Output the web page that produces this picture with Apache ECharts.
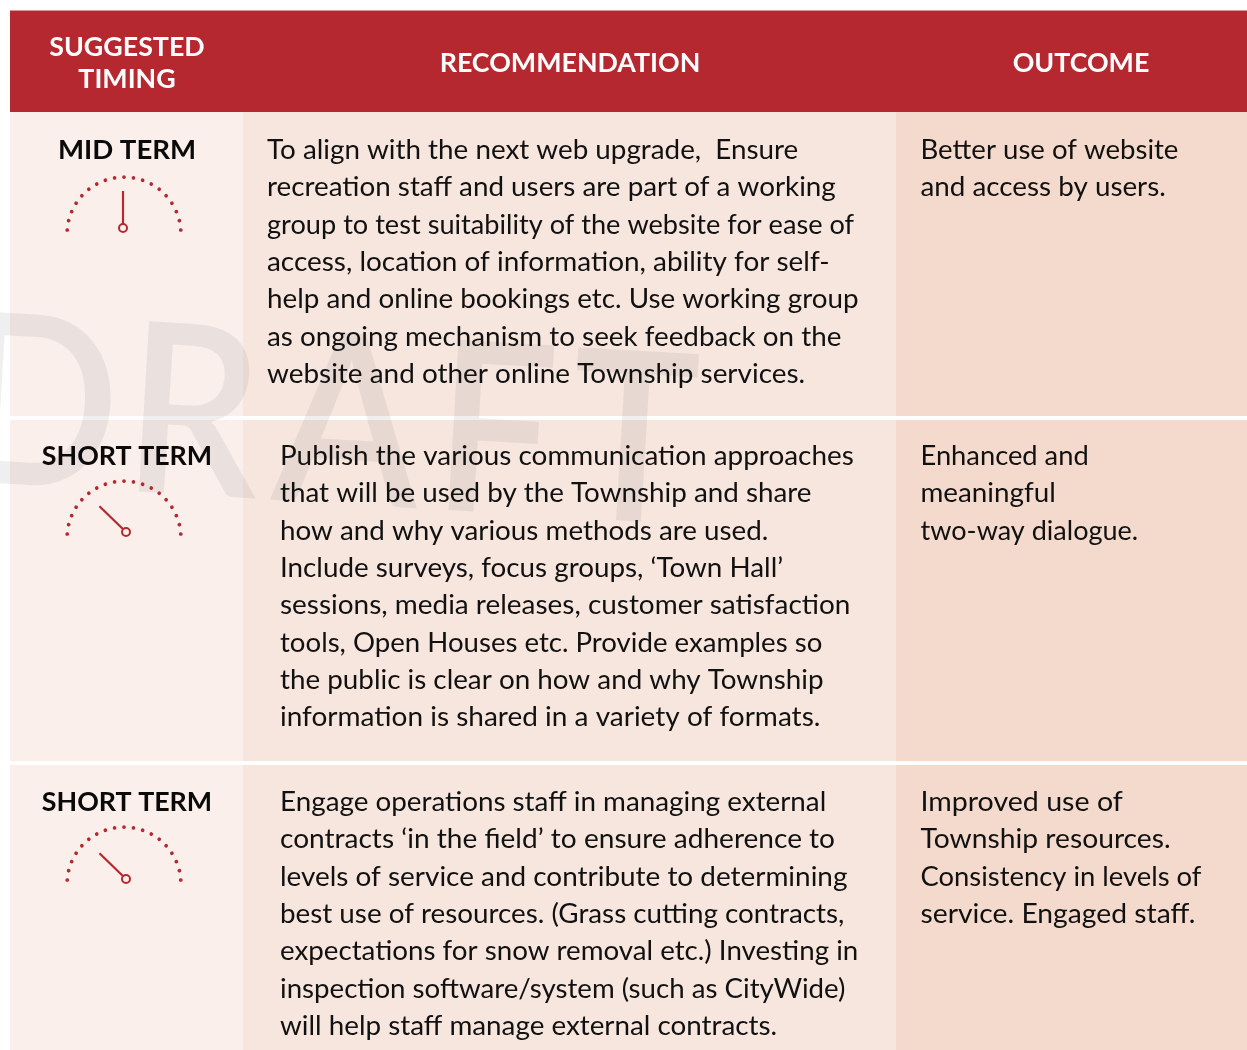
<!DOCTYPE html>
<html>
<head>
<meta charset="utf-8">
<title>Recommendations</title>
<script src="https://cdn.jsdelivr.net/npm/echarts@6/dist/echarts.min.js"></script>
<style>
  html, body { margin: 0; padding: 0; background: #fff; }
  #main { width: 1247px; height: 1050px; }
</style>
</head>
<body>
<div id="main"></div>
<script>
// table content
var headers = ['SUGGESTED\nTIMING', 'RECOMMENDATION', 'OUTCOME'];
var timingLabels = ['MID TERM', 'SHORT TERM', 'SHORT TERM'];
// needle reading on the 18 dot dial
var needleValues = [9, 4.2, 4.2];
var recommendations = [
  ['To align with the next web upgrade,  Ensure',
   'recreation staff and users are part of a working',
   'group to test suitability of the website for ease of',
   'access, location of information, ability for self-',
   'help and online bookings etc. Use working group',
   'as ongoing mechanism to seek feedback on the',
   'website and other online Township services.'],
  ['Publish the various communication approaches',
   'that will be used by the Township and share',
   'how and why various methods are used.',
   'Include surveys, focus groups, ‘Town Hall’',
   'sessions, media releases, customer satisfaction',
   'tools, Open Houses etc. Provide examples so',
   'the public is clear on how and why Township',
   'information is shared in a variety of formats.'],
  ['Engage operations staff in managing external',
   'contracts ‘in the field’ to ensure adherence to',
   'levels of service and contribute to determining',
   'best use of resources. (Grass cutting contracts,',
   'expectations for snow removal etc.) Investing in',
   'inspection software/system (such as CityWide)',
   'will help staff manage external contracts.']
];
var outcomes = [
  ['Better use of website', 'and access by users.'],
  ['Enhanced and', 'meaningful', 'two-way dialogue.'],
  ['Improved use of', 'Township resources.', 'Consistency in levels of', 'service. Engaged staff.']
];
var watermark = ['D', 'R', 'A', 'F', 'T'];

var red = '#b5282f';
var rowTop = [112, 420, 765];
var rowBottom = [416, 761, 1050];
var firstLine = [150, 456, 802];
var recX = [267, 280, 280];
var watermarkX = [38, 193, 348, 495, 633];
var dialCenter = [[124, 234], [124, 538], [124, 884]];
var needlePivot = [[123, 228], [126, 532], [126, 879]];
var lineH = 37.33;
// horizontal squeeze per line, the substitute font runs a little different from the original
var recFit = [
  [1, 1, 0.977, 1.004, 1, 1, 1.004],
  [1.003, 1, 1, 1, 1.005, 0.993, 1, 1.007],
  [1, 1.009, 1.004, 1, 0.997, 0.995, 1]
];
var outcomeFit = [
  [0.992, 1],
  [0.982, 1, 0.973],
  [1.028, 1.016, 0.986, 1.017]
];
var labelFit = [1.03, 1, 1];

function rect(x, y, w, h, fill) {
  return { type: 'rect', silent: true, shape: { x: x, y: y, width: w, height: h }, style: { fill: fill } };
}
function text(str, x, y, font, fill, align, lh, sx) {
  return {
    type: 'text', silent: true, z: 5,
    x: x, y: y, scaleX: sx || 1,
    style: { text: str, font: font, fill: fill, textAlign: align, textVerticalAlign: 'middle', lineHeight: lh }
  };
}
function block(lines, x, y, fit) {
  return lines.map(function (line, j) {
    return {
      type: 'text', silent: true, z: 5,
      x: x, y: y + j * lineH,
      scaleX: fit[j],
      style: { text: line, font: '27.8px Lato', fill: '#111', textAlign: 'left', textVerticalAlign: 'middle' }
    };
  });
}

var elements = [rect(10, 10.4, 1237, 101.6, red)];
rowTop.forEach(function (top, i) {
  var h = rowBottom[i] - top;
  elements.push(rect(10, top, 233, h, '#faefeb'));
  elements.push(rect(243, top, 653, h, '#f7e6de'));
  elements.push(rect(896, top, 351, h, '#f4dacd'));
});

// watermark sits over the cell fills, slightly tilted, letters squeezed a bit
watermark.forEach(function (letter, i) {
  elements.push({
    type: 'text', silent: true, z: 1,
    x: watermarkX[i], y: 409 + (watermarkX[i] - 38) * 0.06,
    rotation: -0.06, scaleX: 0.9,
    style: { text: letter, font: '600 237px Lato', fill: 'rgba(110,110,110,0.11)', textAlign: 'center', textVerticalAlign: 'middle' }
  });
});

elements.push(text(headers[0], 127, 63, 'bold 26.8px Lato', '#fff', 'center', 32));
elements.push(text(headers[1], 570, 63, 'bold 26.8px Lato', '#fff', 'center', 32));
elements.push(text(headers[2], 1081, 63, 'bold 26.8px Lato', '#fff', 'center', 32));

timingLabels.forEach(function (label, i) {
  elements.push(text(label, 127, firstLine[i], 'bold 26.8px Lato', '#0a0a0a', 'center', 32, labelFit[i]));
  elements = elements.concat(block(recommendations[i], recX[i], firstLine[i], recFit[i]));
  elements = elements.concat(block(outcomes[i], 920.5, firstLine[i], outcomeFit[i]));
});

var series = [];
needleValues.forEach(function (v, i) {
  // dotted arc
  series.push({
    type: 'gauge',
    center: dialCenter[i],
    radius: 57,
    startAngle: 176,
    endAngle: 4,
    min: 0,
    max: 18,
    splitNumber: 18,
    silent: true,
    animation: false,
    axisLine: { show: false, lineStyle: { width: 0 } },
    axisTick: { show: false },
    axisLabel: { show: false },
    splitLine: { show: true, distance: 0, length: 0.2, lineStyle: { color: red, width: 3.6, cap: 'round' } },
    pointer: { show: false },
    progress: { show: false },
    title: { show: false },
    detail: { show: false },
    data: [{ value: v }]
  });
  // needle turns round its own pivot, which is off the arc centre
  series.push({
    type: 'gauge',
    center: needlePivot[i],
    radius: 37,
    startAngle: 176,
    endAngle: 4,
    min: 0,
    max: 18,
    silent: true,
    animation: false,
    axisLine: { show: false, lineStyle: { width: 0 } },
    axisTick: { show: false },
    axisLabel: { show: false },
    splitLine: { show: false },
    pointer: { show: true, icon: 'rect', length: 37, width: 2.2, offsetCenter: [0, 0], keepAspect: false, itemStyle: { color: red } },
    anchor: { show: true, showAbove: true, icon: 'circle', size: 8, offsetCenter: [0, 0], itemStyle: { color: '#faefeb', borderColor: red, borderWidth: 2 } },
    progress: { show: false },
    title: { show: false },
    detail: { show: false },
    data: [{ value: v }]
  });
});

var myChart = echarts.init(document.getElementById('main'), null, { renderer: 'canvas' });
myChart.setOption({
  animation: false,
  backgroundColor: '#fff',
  graphic: { elements: elements },
  series: series
});
</script>
</body>
</html>
